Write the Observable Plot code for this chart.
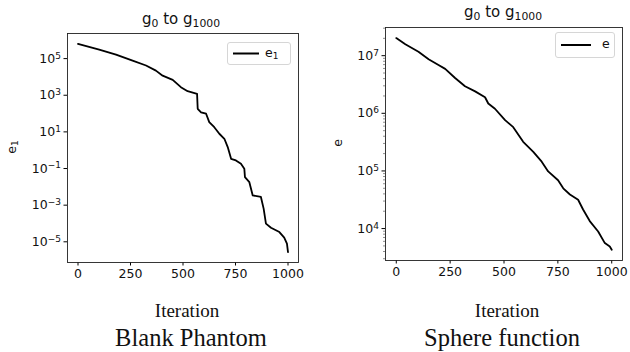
<!DOCTYPE html>
<html>
<head>
<meta charset="utf-8">
<script src="https://cdn.jsdelivr.net/npm/d3@7"></script>
<script src="https://cdn.jsdelivr.net/npm/@observablehq/plot@0.6"></script>
<style>
  html, body { margin: 0; padding: 0; background: #fff; }
  #wrap { position: relative; width: 630px; height: 352px; overflow: hidden; font-family: "DejaVu Sans", sans-serif; }
  .abs { position: absolute; white-space: nowrap; line-height: 1; }
  .abs sub { font-size: 72%; vertical-align: baseline; position: relative; top: 0.25em; }
  .title { font-size: 15px; color: #111; transform: translateX(-50%); }
  .ylab { font-size: 12.5px; color: #111; transform: translate(-50%, -50%) rotate(-90deg); }
  .xlab { font-family: "Liberation Serif", serif; font-size: 19px; color: #111; transform: translateX(-50%); }
  .cap { font-family: "Liberation Serif", serif; font-size: 24.5px; color: #111; transform: translateX(-50%); }
  .legend { border: 1px solid #d6d6d6; border-radius: 3px; background: rgba(255,255,255,0.85); box-sizing: border-box; font-size: 12.5px; color: #111; }
  .legend svg { position: absolute; }
  .legend span { position: absolute; line-height: 1; }
</style>
</head>
<body>
<div id="wrap"></div>
<script>
// ---- data ----
const xTicks = [0, 250, 500, 750, 1000];

// Left panel: Blank Phantom, e1
const leftIter = [0, 101, 181, 260, 324, 371, 403, 451, 490, 522, 567, 570, 586, 610, 625, 649, 673, 697, 713, 729, 752, 776, 792, 795, 816, 832, 871, 884, 895, 919, 959, 982, 995, 1000];
const leftVal = [6.3e5, 3.1e5, 1.66e5, 7.8e4, 4.2e4, 2.2e4, 1.17e4, 6.9e3, 2.75e3, 1.66e3, 1.2e3, 182, 117, 98, 34, 18, 7.9, 4.2, 1.48, 0.34, 0.275, 0.18, 0.098, 0.034, 0.018, 0.0034, 0.0028, 6.5e-4, 9.8e-5, 5.9e-5, 3.4e-5, 1.7e-5, 7.9e-6, 2.75e-6];
const leftYTicks = [1e-5, 1e-3, 1e-1, 1e1, 1e3, 1e5];

// Right panel: Sphere function, e
const rightIter = [0, 42, 103, 150, 196, 227, 273, 319, 366, 412, 427, 458, 505, 543, 589, 636, 675, 705, 751, 775, 806, 844, 867, 898, 937, 968, 991, 1000];
const rightVal = [2.02e7, 1.58e7, 1.17e7, 8.7e6, 6.9e6, 5.9e6, 4.1e6, 2.95e6, 2.4e6, 1.9e6, 1.48e6, 1.2e6, 7.6e5, 5.75e5, 3.2e5, 2.14e5, 1.45e5, 9.8e4, 6.9e4, 5.0e4, 3.9e4, 3.16e4, 2.14e4, 1.35e4, 8.9e3, 5.6e3, 4.9e3, 4.3e3];
const rightYTicks = [1e4, 1e5, 1e6, 1e7];
const rightMinorTicks = [3e3, 4e3, 5e3, 6e3, 7e3, 8e3, 9e3, 2e4, 3e4, 4e4, 5e4, 6e4, 7e4, 8e4, 9e4, 2e5, 3e5, 4e5, 5e5, 6e5, 7e5, 8e5, 9e5, 2e6, 3e6, 4e6, 5e6, 6e6, 7e6, 8e6, 9e6, 2e7, 3e7];

const titleHTML = "g<sub>0</sub> to g<sub>1000</sub>";
const captions = ["Blank Phantom", "Sphere function"];
const yLabelsHTML = ["e<sub>1</sub>", "e"];
const xLabel = "Iteration";

// ---- helpers ----
const fmtPow = d => "10^" + Math.round(Math.log10(d));

function superscriptTicks(svg) {
  svg.querySelectorAll("text").forEach(t => {
    const m = /^10\^(-?\d+)$/.exec(t.textContent);
    if (!m) return;
    const exp = m[1].replace("-", "\u2212");
    t.textContent = "";
    const base = document.createElementNS("http://www.w3.org/2000/svg", "tspan");
    base.textContent = "10";
    const s = document.createElementNS("http://www.w3.org/2000/svg", "tspan");
    s.textContent = exp;
    s.setAttribute("dy", "-0.45em");
    s.setAttribute("font-size", "72%");
    t.appendChild(base);
    t.appendChild(s);
  });
}

const wrap = document.getElementById("wrap");
function addText(cls, html, x, y) {
  const el = document.createElement("div");
  el.className = "abs " + cls;
  el.innerHTML = html;
  el.style.left = x + "px";
  el.style.top = y + "px";
  wrap.appendChild(el);
  return el;
}
function addLegend(x, y, w, h, labelHTML, lineX1, lineX2, labelX) {
  const el = document.createElement("div");
  el.className = "abs legend";
  Object.assign(el.style, {left: x + "px", top: y + "px", width: w + "px", height: h + "px"});
  el.innerHTML = `<svg width="${w}" height="${h}" style="left:0;top:0"><line x1="${lineX1}" x2="${lineX2}" y1="${h/2 - 1}" y2="${h/2 - 1}" stroke="#000" stroke-width="2"/></svg><span style="left:${labelX}px;top:${h/2 - 8}px">${labelHTML}</span>`;
  wrap.appendChild(el);
}

function panel(iters, vals, yDomain, yTicks, minor, m) {
  const data = iters.map((d, i) => ({iter: d, val: vals[i]}));
  const marks = [
    Plot.line(data, {x: "iter", y: "val", stroke: "#000", strokeWidth: 1.8}),
    Plot.axisX(xTicks, {tickSize: 3.5, tickPadding: 3.5, tickFormat: d => String(d), label: null, stroke: "#000", fill: "#111"}),
    Plot.axisY(yTicks, {tickSize: 3.5, tickPadding: 3, tickFormat: fmtPow, label: null, stroke: "#000", fill: "#111"})
  ];
  if (minor) marks.push(Plot.axisY(minor, {tickSize: 2, tickFormat: () => "", label: null, stroke: "#444", strokeWidth: 0.6}));
  marks.push(Plot.frame({stroke: "#222", strokeWidth: 0.9}));
  const svg = Plot.plot({
    width: 315, height: 280,
    marginLeft: m[0], marginRight: m[1], marginTop: m[2], marginBottom: m[3],
    style: {fontFamily: "DejaVu Sans, sans-serif", fontSize: "12.5px", background: "transparent", overflow: "visible"},
    x: {domain: [-50, 1050]},
    y: {type: "log", domain: yDomain},
    marks
  });
  superscriptTicks(svg);
  return svg;
}

const left = panel(leftIter, leftVal, [Math.pow(10, -6.13), Math.pow(10, 6.37)], leftYTicks, null, [67, 17, 33, 18]);
left.style.position = "absolute"; left.style.left = "0px"; left.style.top = "0px";
wrap.appendChild(left);

const right = panel(rightIter, rightVal, [Math.pow(10, 3.446), Math.pow(10, 7.489)], rightYTicks, rightMinorTicks, [70, 8, 27, 20]);
right.style.position = "absolute"; right.style.left = "315px"; right.style.top = "0px";
wrap.appendChild(right);

// titles
addText("title", titleHTML, 181, 12);
addText("title", titleHTML, 503, 5);
// y labels
addText("ylab", yLabelsHTML[0], 12, 147);
addText("ylab", yLabelsHTML[1], 338, 143);
// x labels
addText("xlab", xLabel, 187, 301);
addText("xlab", xLabel, 507, 301);
// captions
addText("cap", captions[0], 191, 326);
addText("cap", captions[1], 502, 326);
// legends
addLegend(227, 42, 64, 23, yLabelsHTML[0], 5, 31, 37);
addLegend(555, 32, 60, 26, yLabelsHTML[1], 5, 35, 46);
</script>
</body>
</html>
